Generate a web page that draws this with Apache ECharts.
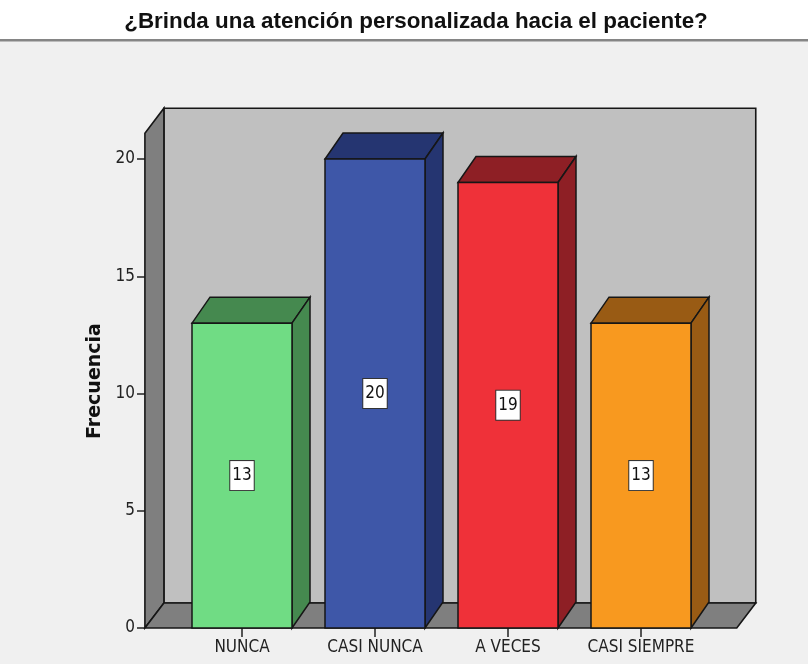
<!DOCTYPE html>
<html>
<head>
<meta charset="utf-8">
<script src="https://cdn.jsdelivr.net/npm/echarts@6/dist/echarts.min.js"></script>
<style>
  html, body { margin: 0; padding: 0; background: #ffffff; }
  #chart { width: 808px; height: 664px; }
</style>
</head>
<body>
<div id="chart"></div>
<script>
// Frequency table
const categories = ['NUNCA', 'CASI NUNCA', 'A VECES', 'CASI SIEMPRE'];
const frequencies = [13, 20, 19, 13];
const yTicks = [0, 5, 10, 15, 20];
const chartTitle = '¿Brinda una atención personalizada hacia el paciente?';
const yAxisTitle = 'Frecuencia';

// Face colours of the boxes: front face and the darker top/side faces
const frontColors = ['#70dc84', '#3e57a8', '#ef3139', '#f8991f'];
const shadeColors = ['#45894f', '#253571', '#8e1f25', '#995b14'];

const LABEL_FONT = '"Liberation Sans Narrow", "Arial Narrow", "DejaVu Sans Condensed", sans-serif';
const EDGE = '#161616';
const BAR_DX = 18, BAR_DY = -26;     // oblique depth of the boxes
const WALL_DX = 19, WALL_DY = -25;   // oblique depth of floor and walls
const BAR_FRACTION = 100 / 133;      // box width relative to category band
const WALL_TOP = 21.1;               // walls rise a little above the last tick
const FLOOR_LEFT = 0.73, FLOOR_RIGHT = 0.72; // floor overhang in bands

const chart = echarts.init(document.getElementById('chart'));

// Back wall, left wall and floor of the 3D frame
function renderFrame(params, api) {
  const band = api.size([1, 0])[0];
  const x0 = api.coord([0, 0])[0] - band * FLOOR_LEFT;
  const x1 = api.coord([categories.length - 1, 0])[0] + band * FLOOR_RIGHT;
  const yb = api.coord([0, 0])[1];
  const yt = api.coord([0, WALL_TOP])[1];
  const edge = { stroke: EDGE, lineWidth: 1.6 };
  return {
    type: 'group',
    children: [
      { type: 'rect', shape: { x: x0 + WALL_DX, y: yt + WALL_DY, width: x1 - x0, height: yb - yt },
        style: Object.assign({ fill: '#c0c0c0' }, edge) },
      { type: 'polygon', shape: { points: [[x0, yb], [x0, yt], [x0 + WALL_DX, yt + WALL_DY], [x0 + WALL_DX, yb + WALL_DY]] },
        style: Object.assign({ fill: '#7f7f7f' }, edge) },
      { type: 'polygon', shape: { points: [[x0, yb], [x1, yb], [x1 + WALL_DX, yb + WALL_DY], [x0 + WALL_DX, yb + WALL_DY]] },
        style: Object.assign({ fill: '#7f7f7f' }, edge) }
    ]
  };
}

// One 3D box per category, with its count in a white box at mid-height
function renderBar(params, api) {
  const i = api.value(0);
  const v = api.value(1);
  const band = api.size([1, 0])[0];
  const w = band * BAR_FRACTION;
  const topPt = api.coord([i, v]);
  const cx = topPt[0], top = topPt[1];
  const bottom = api.coord([i, 0])[1];
  const mid = api.coord([i, v / 2])[1];
  const l = cx - w / 2, r = cx + w / 2;
  const edge = { stroke: EDGE, lineWidth: 1.5 };
  return {
    type: 'group',
    children: [
      { type: 'polygon', shape: { points: [[l, top], [r, top], [r + BAR_DX, top + BAR_DY], [l + BAR_DX, top + BAR_DY]] },
        style: Object.assign({ fill: shadeColors[i] }, edge) },
      { type: 'polygon', shape: { points: [[r, top], [r + BAR_DX, top + BAR_DY], [r + BAR_DX, bottom + BAR_DY], [r, bottom]] },
        style: Object.assign({ fill: shadeColors[i] }, edge) },
      { type: 'rect', shape: { x: l, y: top, width: w, height: bottom - top },
        style: Object.assign({ fill: frontColors[i] }, edge) },
      { type: 'text', x: cx, y: mid,
        style: { text: String(v), fontSize: 17, fontFamily: LABEL_FONT, fill: '#111',
                 align: 'center', verticalAlign: 'middle',
                 backgroundColor: '#ffffff', borderColor: '#333', borderWidth: 1, padding: [6, 2] } }
    ]
  };
}

chart.setOption({
  animation: false,
  backgroundColor: '#ffffff',
  grid: { left: 175.5, right: 100.5, top: 159, bottom: 36 },
  graphic: [
    { type: 'rect', z: -10, shape: { x: 0, y: 40, width: 808, height: 624 }, style: { fill: '#f0f0f0' } },
    { type: 'rect', z: -9, shape: { x: 0, y: 39, width: 808, height: 2.5 }, style: { fill: '#858585' } },
    { type: 'text', x: 416, y: 22, style: { text: chartTitle, fontSize: 22.4, fontWeight: 'bold',
        fontFamily: '"Liberation Sans", Arial, sans-serif', fill: '#111', align: 'center', verticalAlign: 'middle' } },
    { type: 'text', x: 95, y: 381, rotation: Math.PI / 2, style: { text: yAxisTitle, fontSize: 19, fontWeight: 'bold',
        fontFamily: '"DejaVu Sans", sans-serif', fill: '#111', align: 'center', verticalAlign: 'middle' } }
  ],
  xAxis: {
    type: 'category',
    data: categories,
    axisLine: { show: false },
    axisTick: { show: true, alignWithLabel: true, length: 9, lineStyle: { color: '#222', width: 1.5 } },
    axisLabel: { interval: 0, margin: 11, fontSize: 17, fontFamily: LABEL_FONT, color: '#222' },
    splitLine: { show: false }
  },
  yAxis: {
    type: 'value',
    min: yTicks[0],
    max: yTicks[yTicks.length - 1],
    interval: yTicks[1] - yTicks[0],
    offset: 30.5,
    axisLine: { show: false },
    axisTick: { show: true, length: 8, lineStyle: { color: '#222', width: 1.5 } },
    axisLabel: { margin: 10, fontSize: 17, fontFamily: LABEL_FONT, color: '#222' },
    splitLine: { show: false }
  },
  series: [
    { type: 'custom', z: 1, clip: false, renderItem: renderFrame, data: [[0, 0]], encode: { x: 0, y: 1 }, silent: true },
    { type: 'custom', z: 2, clip: false, renderItem: renderBar,
      data: frequencies.map((v, i) => [i, v]), encode: { x: 0, y: 1 } }
  ]
});
</script>
</body>
</html>
